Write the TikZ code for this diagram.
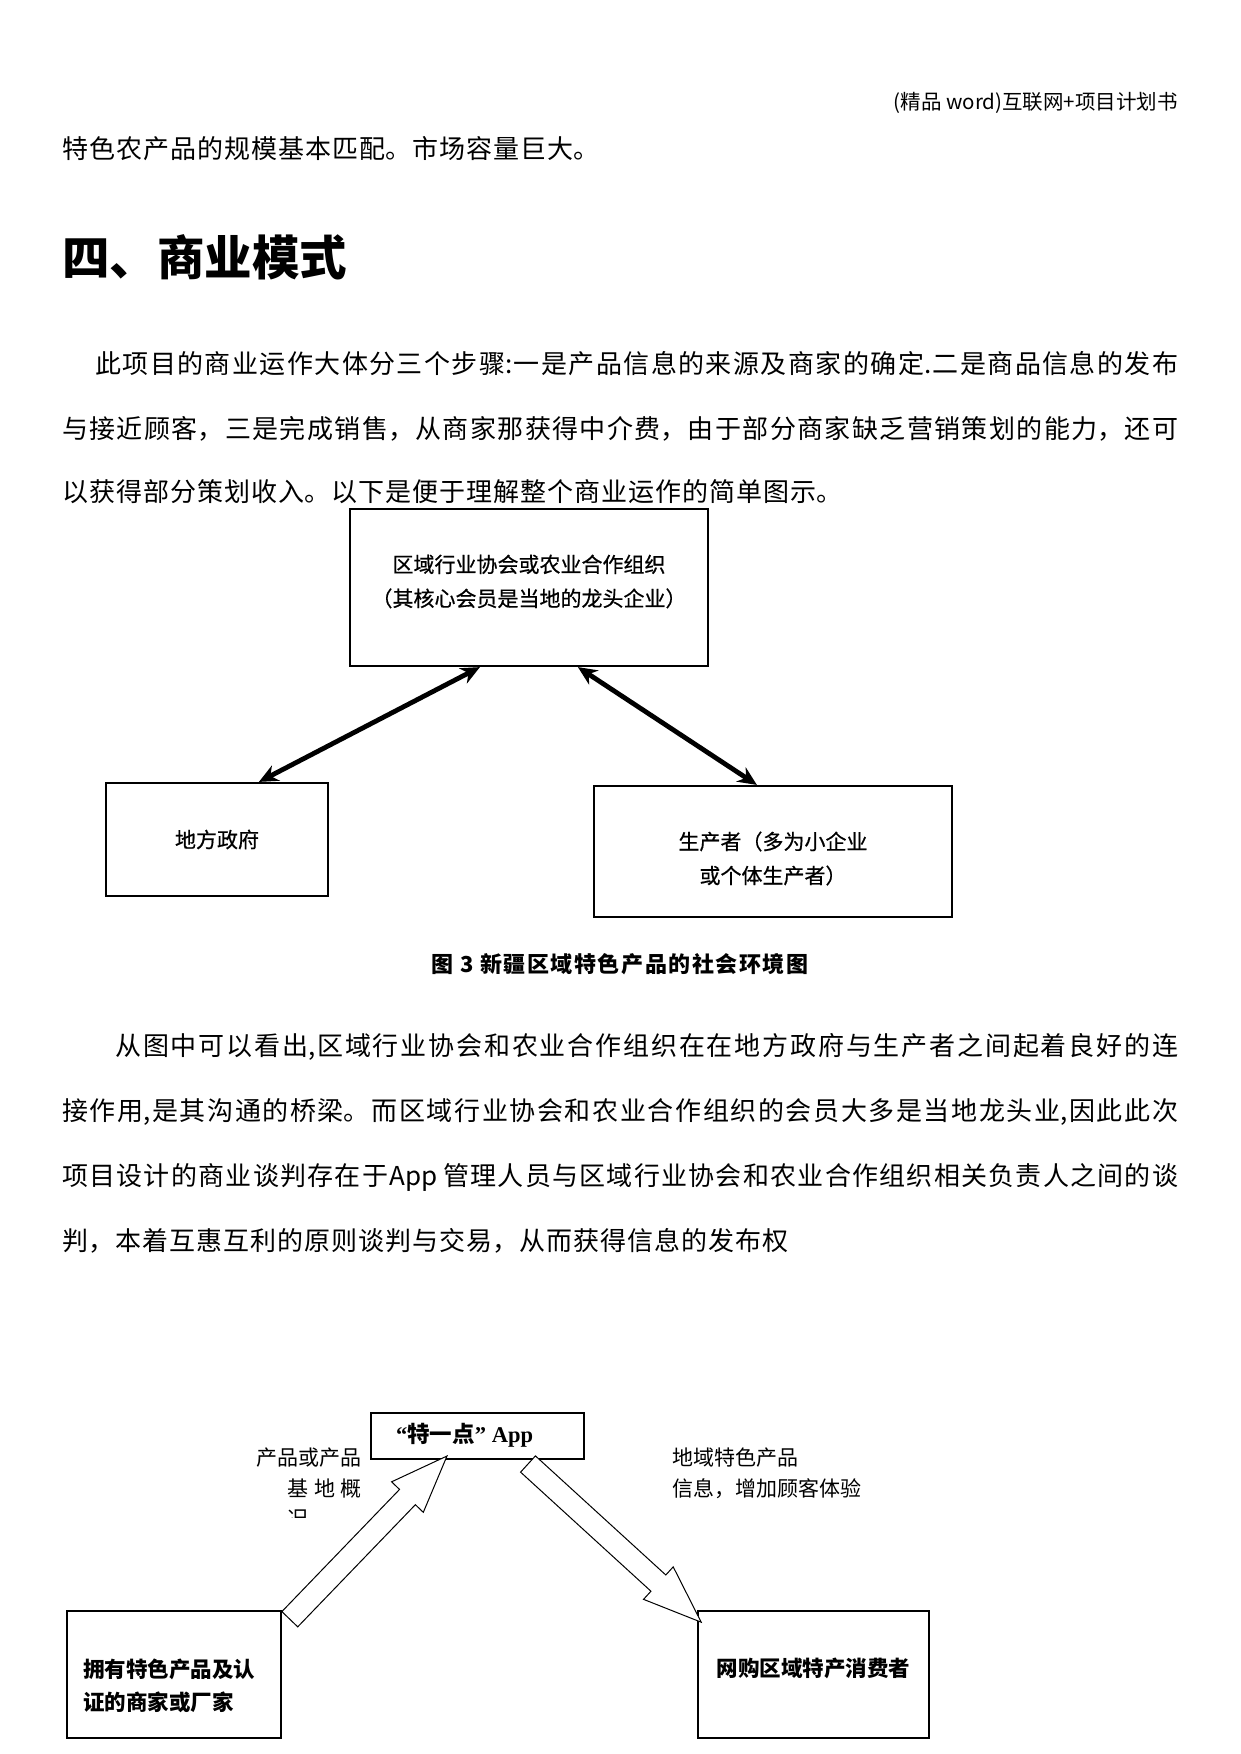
\documentclass[tikz,border=0pt]{standalone}
\usepackage{fontspec}
\setmainfont{Noto Sans CJK SC}
\newfontfamily\tnr{Liberation Serif}
\newfontfamily\medfont[FakeBold=0.6]{Noto Sans CJK SC}
\usetikzlibrary{arrows.meta,calc}
\XeTeXlinebreaklocale "zh"
\XeTeXlinebreakskip=1pt plus 4pt
\newcommand{\justline}[1]{\parfillskip=0pt\relax #1\par}

\begin{document}
\begin{tikzpicture}[x=1pt, y=-1pt,
  bodytext/.style={anchor=west, inner sep=0pt, text width=#1, align=justify, font=\fontsize{26}{30}\selectfont},
  box/.style={draw, line width=2.2pt, inner sep=0pt},
  boxtext/.style={align=center, inner sep=0pt, font=\medfont\fontsize{21}{34}\selectfont},
  bbox/.style={draw, line width=1.6pt, inner sep=0pt},
  bboxtext/.style={inner sep=0pt, font=\bfseries\fontsize{21.5}{33}\selectfont},
  biarrow/.style={{Stealth[length=19pt,width=17pt]}-{Stealth[length=19pt,width=17pt]}, line width=4.8pt},
  hollow/.style={draw, line width=1pt, fill=white, line join=miter},
  note/.style={inner sep=0pt, font=\fontsize{21}{30.5}\selectfont}
]
\fill[white] (0,0) rectangle (1241,1754);
\useasboundingbox (0,0) rectangle (1241,1754);

% Page header and running text
\node[anchor=east, inner sep=0pt, font=\fontsize{20.5}{24}\selectfont] (header) at (1178,103) {(精品 word)互联网+项目计划书};
\node[bodytext=1116pt] (intro) at (62,149) {特色农产品的规模基本匹配。市场容量巨大。};
\node[anchor=west, inner sep=0pt, font=\bfseries\fontsize{47.5}{50}\selectfont] (heading) at (62,257) {四、商业模式};

\node[bodytext=1083pt] (paraA1) at (95,364) {\justline{此项目的商业运作大体分三个步骤:一是产品信息的来源及商家的确定.二是商品信息的发布}};
\node[bodytext=1116pt] (paraA2) at (62,429) {\justline{与接近顾客，三是完成销售，从商家那获得中介费，由于部分商家缺乏营销策划的能力，还可}};
\node[bodytext=1116pt] (paraA3) at (62,492) {以获得部分策划收入。以下是便于理解整个商业运作的简单图示。};

% Figure 3
\node[box, minimum width=358pt, minimum height=157pt] (assoc) at (529,587.5) {};
\node[boxtext] (assocText) at ([yshift=6pt]assoc.center) {区域行业协会或农业合作组织\\（其核心会员是当地的龙头企业）};
\node[box, minimum width=222pt, minimum height=113pt] (gov) at (217,839.5) {};
\node[boxtext] (govText) at (gov.center) {地方政府};
\node[box, minimum width=358pt, minimum height=131pt] (producer) at (773,851.5) {};
\node[boxtext] (producerText) at ([yshift=-7pt]producer.center) {生产者（多为小企业\\或个体生产者）};

\draw[biarrow] ([xshift=131pt]assoc.south west) -- ([xshift=154pt]gov.north west);
\draw[biarrow] ([xshift=229pt]assoc.south west) -- ([xshift=164pt]producer.north west);

\node[inner sep=0pt, font=\bfseries\fontsize{22}{26}\selectfont\addfontfeature{LetterSpace=7}] (caption) at (620,964) {图 3 新疆区域特色产品的社会环境图};

% Second paragraph
\node[bodytext=1063pt] (paraB1) at (115,1047) {\justline{从图中可以看出,区域行业协会和农业合作组织在在地方政府与生产者之间起着良好的连}};
\node[bodytext=1116pt] (paraB2) at (62,1112) {\justline{接作用,是其沟通的桥梁。而区域行业协会和农业合作组织的会员大多是当地龙头业,因此此次}};
\node[bodytext=1116pt] (paraB3) at (62,1177) {\justline{项目设计的商业谈判存在于App 管理人员与区域行业协会和农业合作组织相关负责人之间的谈}};
\node[bodytext=1116pt] (paraB4) at (62,1241) {判，本着互惠互利的原则谈判与交易，从而获得信息的发布权};

% Business flow
\node[draw, line width=2pt, inner sep=0pt, minimum width=213pt, minimum height=46pt] (app) at (477.5,1435.5) {};
\node[anchor=west, inner sep=0pt, font=\bfseries\fontsize{22.5}{24}\selectfont] (appText) at ([xshift=26pt]app.west) {{\tnr “}特一点{\tnr ” App}};
\node[bbox, minimum width=214pt, minimum height=127pt] (merchant) at (174,1674.5) {};
\node[bboxtext, anchor=west, align=left] (merchantText) at ([xshift=17pt,yshift=-11pt]merchant.west) {拥有特色产品及认\\证的商家或厂家};
\node[bbox, minimum width=231pt, minimum height=127pt] (consumer) at (813.5,1674.5) {};
\node[bboxtext] (consumerText) at ([yshift=6pt]consumer.center) {网购区域特产消费者};

\begin{scope}
  \clip (200,1430) rectangle (400,1517);
  \node[note, anchor=east, align=right] (leftnote) at (362,1488) {产品或产品\\\makebox[74pt][s]{基\hfill 地\hfill 概}\\\makebox[74pt][l]{况}};
\end{scope}
\node[note, anchor=west, align=left] (rightnote) at (672,1473.5) {地域特色产品\\信息，增加顾客体验};

% Block arrows
\coordinate (upTail) at ([shift={(8,9)}]merchant.north east);
\coordinate (upTip) at ([shift={(77,-3.5)}]app.south west);
\coordinate (upNeck) at ($(upTip)!57pt!(upTail)$);
\draw[hollow] ($(upTail)!11pt!90:(upTip)$) -- ($(upNeck)!11pt!90:(upTip)$) -- ($(upNeck)!22pt!90:(upTip)$) -- (upTip)
  -- ($(upNeck)!22pt!-90:(upTip)$) -- ($(upNeck)!11pt!-90:(upTip)$) -- ($(upTail)!11pt!-90:(upTip)$) -- cycle;

\coordinate (downTail) at ([shift={(-57,4.5)}]app.south east);
\coordinate (downTip) at ([shift={(4,12)}]consumer.north west);
\coordinate (downNeck) at ($(downTip)!58pt!(downTail)$);
\draw[hollow] ($(downTail)!11pt!90:(downTip)$) -- ($(downNeck)!11pt!90:(downTip)$) -- ($(downNeck)!22pt!90:(downTip)$) -- (downTip)
  -- ($(downNeck)!22pt!-90:(downTip)$) -- ($(downNeck)!11pt!-90:(downTip)$) -- ($(downTail)!11pt!-90:(downTip)$) -- cycle;

\end{tikzpicture}
\end{document}
